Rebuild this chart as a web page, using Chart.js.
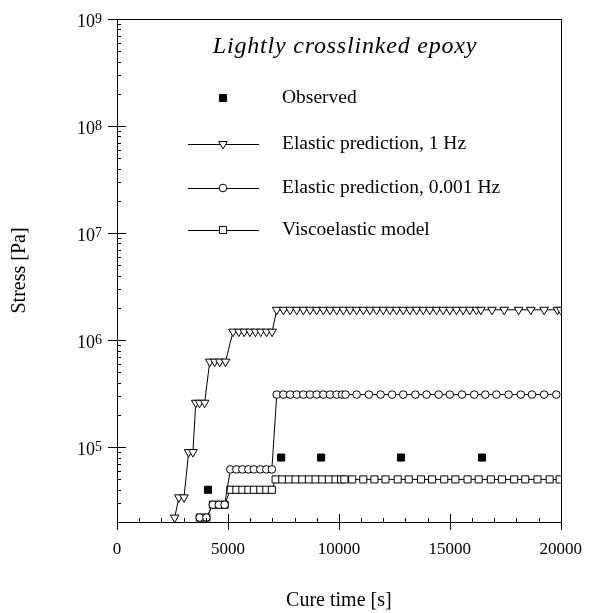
<!DOCTYPE html>
<html>
<head>
<meta charset="utf-8">
<script src="https://cdn.jsdelivr.net/npm/chart.js@4.4.0/dist/chart.umd.min.js"></script>
<style>
  html, body { margin: 0; padding: 0; background: #fff; }
</style>
</head>
<body>
<canvas id="mycanvas" width="591" height="613"></canvas>
<script>
// values (time in s, stress in Pa)
var obsX = [4100, 7400, 9200, 12800, 16450];
var obsY = [4.0e4, 8.0e4, 8.0e4, 8.0e4, 8.0e4];

var hz1X = [2600, 2790, 3020, 3230, 3420, 3550, 3720, 3950, 4180, 4400, 4630, 4890,
            5230, 5490, 5730, 5990, 6240, 6480, 6740, 6990,
            7200, 7500, 7800, 8100, 8400, 8700, 9000, 9300, 9600, 9900, 10200, 10500,
            10800, 11100, 11400, 11700, 12000, 12300, 12600, 12900, 13200, 13500, 13800,
            14100, 14400, 14700, 15000, 15300, 15600, 15900, 16200, 16400,
            16900, 17450, 18100, 18650, 19250, 19850, 20000];
var hz1Y = [2.2e4, 3.4e4, 3.4e4, 9.0e4, 9.0e4, 2.6e5, 2.6e5, 2.6e5, 6.3e5, 6.3e5, 6.3e5, 6.3e5,
            1.2e6, 1.2e6, 1.2e6, 1.2e6, 1.2e6, 1.2e6, 1.2e6, 1.2e6,
            1.92e6, 1.92e6, 1.92e6, 1.92e6, 1.92e6, 1.92e6, 1.92e6, 1.92e6, 1.92e6, 1.92e6, 1.92e6, 1.92e6,
            1.92e6, 1.92e6, 1.92e6, 1.92e6, 1.92e6, 1.92e6, 1.92e6, 1.92e6, 1.92e6, 1.92e6, 1.92e6,
            1.92e6, 1.92e6, 1.92e6, 1.92e6, 1.92e6, 1.92e6, 1.92e6, 1.92e6, 1.92e6,
            1.92e6, 1.92e6, 1.92e6, 1.92e6, 1.92e6, 1.92e6, 1.92e6];

var mhzX = [3730, 4030, 4320, 4590, 4850,
            5110, 5380, 5650, 5920, 6170, 6460, 6730, 6980,
            7200, 7500, 7800, 8100, 8400, 8700, 9000, 9300, 9600, 9900, 10150, 10300,
            10800, 11350, 11880, 12400, 12900, 13450, 13950, 14500, 15000, 15550, 16100,
            16600, 17100, 17650, 18200, 18700, 19250, 19800];
var mhzY = [2.2e4, 2.2e4, 2.9e4, 2.9e4, 2.9e4,
            6.2e4, 6.2e4, 6.2e4, 6.2e4, 6.2e4, 6.2e4, 6.2e4, 6.2e4,
            3.1e5, 3.1e5, 3.1e5, 3.1e5, 3.1e5, 3.1e5, 3.1e5, 3.1e5, 3.1e5, 3.1e5, 3.1e5, 3.1e5,
            3.1e5, 3.1e5, 3.1e5, 3.1e5, 3.1e5, 3.1e5, 3.1e5, 3.1e5, 3.1e5, 3.1e5, 3.1e5,
            3.1e5, 3.1e5, 3.1e5, 3.1e5, 3.1e5, 3.1e5, 3.1e5];

var viscoX = [3730, 4030, 4320, 4590, 4850,
              5110, 5380, 5650, 5920, 6170, 6460, 6730, 6980,
              7150, 7450, 7750, 8050, 8350, 8650, 8950, 9250, 9550, 9850, 10100, 10250,
              10600, 11100, 11600, 12100, 12650, 13150, 13700, 14200, 14750, 15250, 15800,
              16300, 16850, 17350, 17900, 18400, 18950, 19500, 19950];
var viscoY = [2.2e4, 2.2e4, 2.9e4, 2.9e4, 2.9e4,
              4.0e4, 4.0e4, 4.0e4, 4.0e4, 4.0e4, 4.0e4, 4.0e4, 4.0e4,
              5.0e4, 5.0e4, 5.0e4, 5.0e4, 5.0e4, 5.0e4, 5.0e4, 5.0e4, 5.0e4, 5.0e4, 5.0e4, 5.0e4,
              5.0e4, 5.0e4, 5.0e4, 5.0e4, 5.0e4, 5.0e4, 5.0e4, 5.0e4, 5.0e4, 5.0e4, 5.0e4,
              5.0e4, 5.0e4, 5.0e4, 5.0e4, 5.0e4, 5.0e4, 5.0e4, 5.0e4];

var xTicks = [0, 5000, 10000, 15000, 20000];
var yDecades = [5, 6, 7, 8, 9];
var legendTitle = 'Lightly crosslinked epoxy';
var seriesNames = ['Observed', 'Elastic prediction, 1 Hz', 'Elastic prediction, 0.001 Hz', 'Viscoelastic model'];

var serif = '"Liberation Serif", "Times New Roman", serif';

function pts(xs, ys) {
  var out = [];
  for (var i = 0; i < xs.length; i++) out.push({x: xs[i], y: ys[i]});
  return out;
}

// frame, crossing ticks, minor ticks, 10^n labels and the in-plot legend
var decorations = {
  id: 'decorations',
  afterDraw: function(chart) {
    var ctx = chart.ctx;
    var a = chart.chartArea;
    var xs = chart.scales.x, ys = chart.scales.y;
    ctx.save();
    ctx.strokeStyle = '#000';
    ctx.fillStyle = '#000';
    ctx.lineWidth = 1;
    ctx.strokeRect(Math.round(a.left) + 0.5, Math.round(a.top) + 0.5,
                   Math.round(a.right - a.left), Math.round(a.bottom - a.top));

    ctx.beginPath();
    // x ticks
    for (var t = 0; t <= 20000; t += 1000) {
      var px = Math.round(xs.getPixelForValue(t)) + 0.5;
      if (t % 5000 === 0) {
        ctx.moveTo(px, a.bottom - 8); ctx.lineTo(px, a.bottom + 8);
      } else {
        ctx.moveTo(px, a.bottom); ctx.lineTo(px, a.bottom - 4);
      }
    }
    // y ticks
    for (var p = 4; p <= 8; p++) {
      for (var m = 1; m <= 9; m++) {
        var v = m * Math.pow(10, p);
        if (v < ys.min || v > ys.max) continue;
        var py = Math.round(ys.getPixelForValue(v)) + 0.5;
        if (m === 1) {
          ctx.moveTo(a.left - 9, py); ctx.lineTo(a.left + 9, py);
        } else {
          ctx.moveTo(a.left, py); ctx.lineTo(a.left + 4, py);
        }
      }
    }
    var topPy = Math.round(ys.getPixelForValue(1e9)) + 0.5;
    ctx.moveTo(a.left - 9, topPy); ctx.lineTo(a.left, topPy);
    ctx.stroke();

    // y labels 10^n
    yDecades.forEach(function(n) {
      var py = ys.getPixelForValue(Math.pow(10, n));
      var right = a.left - 15;
      ctx.font = '14px ' + serif;
      var ew = ctx.measureText(String(n)).width;
      ctx.textAlign = 'left';
      ctx.textBaseline = 'alphabetic';
      ctx.fillText(String(n), right - ew, py + 4);
      ctx.font = '18px ' + serif;
      ctx.textAlign = 'right';
      ctx.fillText('10', right - ew, py + 8);
    });

    // legend
    ctx.font = 'italic 24px ' + serif;
    ctx.letterSpacing = '0.8px';
    ctx.textAlign = 'center';
    ctx.textBaseline = 'middle';
    ctx.fillText(legendTitle, 345, 47);
    ctx.letterSpacing = '0px';

    var rows = [98, 144, 188, 230];
    var styles = [
      {pointStyle: 'rect', radius: 5, rotation: 0, fill: '#000', line: false},
      {pointStyle: 'triangle', radius: 5, rotation: 180, fill: '#fff', line: true},
      {pointStyle: 'circle', radius: 3.8, rotation: 0, fill: '#fff', line: true},
      {pointStyle: 'rect', radius: 5, rotation: 0, fill: '#fff', line: true}
    ];
    ctx.font = '19.5px ' + serif;
    ctx.textAlign = 'left';
    for (var i = 0; i < rows.length; i++) {
      var s = styles[i];
      if (s.line) {
        ctx.beginPath();
        ctx.moveTo(188, rows[i] + 0.5); ctx.lineTo(259, rows[i] + 0.5);
        ctx.stroke();
      }
      ctx.fillStyle = s.fill;
      Chart.helpers.drawPoint(ctx, {pointStyle: s.pointStyle, radius: s.radius, rotation: s.rotation, borderWidth: 1}, 223, rows[i]);
      ctx.fillStyle = '#000';
      ctx.fillText(seriesNames[i], 282, rows[i]);
    }
    ctx.restore();
  }
};

var ctx = document.getElementById('mycanvas');

var chart = new Chart(ctx, {
  type: 'scatter',
  data: {
    datasets: [
      {
        label: seriesNames[0],
        data: pts(obsX, obsY),
        pointStyle: 'rect',
        pointRadius: 5,
        backgroundColor: '#000',
        borderColor: '#000',
        borderWidth: 1,
        showLine: false
      },
      {
        label: seriesNames[1],
        data: pts(hz1X, hz1Y),
        pointStyle: 'triangle',
        rotation: 180,
        pointRadius: 5,
        backgroundColor: '#fff',
        borderColor: '#000',
        borderWidth: 1,
        showLine: true
      },
      {
        label: seriesNames[2],
        data: pts(mhzX, mhzY),
        pointStyle: 'circle',
        pointRadius: 3.8,
        backgroundColor: '#fff',
        borderColor: '#000',
        borderWidth: 1,
        showLine: true
      },
      {
        label: seriesNames[3],
        data: pts(viscoX, viscoY),
        pointStyle: 'rect',
        pointRadius: 5,
        backgroundColor: '#fff',
        borderColor: '#000',
        borderWidth: 1,
        showLine: true
      }
    ]
  },
  options: {
    responsive: false,
    animation: false,
    devicePixelRatio: 1,
    layout: { padding: { left: 0, top: 19, right: 29, bottom: 0 } },
    plugins: {
      legend: { display: false },
      tooltip: { enabled: false }
    },
    scales: {
      x: {
        type: 'linear',
        min: 0,
        max: 20000,
        afterBuildTicks: function(scale) {
          scale.ticks = xTicks.map(function(v) { return {value: v}; });
        },
        afterFit: function(scale) { scale.height = 91; },
        grid: { display: false },
        border: { display: false },
        ticks: {
          color: '#000',
          font: { family: serif, size: 17 },
          padding: 9,
          maxRotation: 0,
          callback: function(v) { return String(v); }
        },
        title: {
          display: true,
          text: 'Cure time [s]',
          color: '#000',
          font: { family: serif, size: 20 },
          padding: { top: 0, bottom: 0 }
        }
      },
      y: {
        type: 'logarithmic',
        min: 2e4,
        max: 1e9,
        afterFit: function(scale) { scale.width = 117; },
        grid: { display: false },
        border: { display: false },
        ticks: { display: false },
        title: {
          display: true,
          text: 'Stress [Pa]',
          color: '#000',
          font: { family: serif, size: 20 },
          padding: { top: 8, bottom: 0 }
        }
      }
    }
  },
  plugins: [decorations]
});
</script>
</body>
</html>
